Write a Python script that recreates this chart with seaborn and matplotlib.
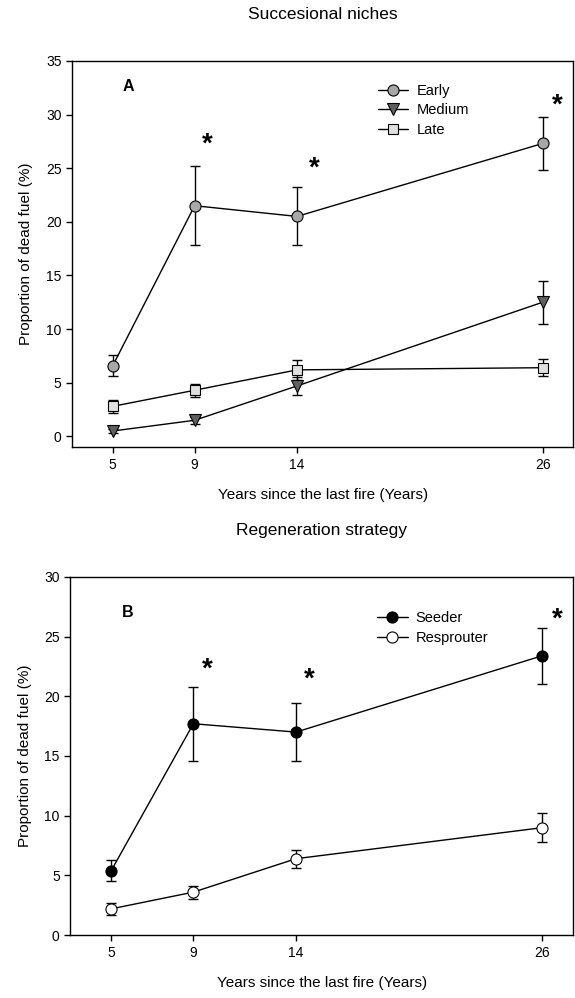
import numpy as np
import pandas as pd
import matplotlib
matplotlib.use("Agg")
import matplotlib.pyplot as plt
import seaborn as sns

# years since last fire
years = [5, 9, 14, 26]

# panel A: successional niches (mean, error)
early = [6.6, 21.5, 20.5, 27.3]
early_err = [1.0, 3.7, 2.7, 2.5]
medium = [0.5, 1.5, 4.7, 12.5]
medium_err = [0.2, 0.3, 0.8, 2.0]
late = [2.8, 4.3, 6.2, 6.4]
late_err = [0.6, 0.6, 0.9, 0.8]

# panel B: regeneration strategy
seeder = [5.4, 17.7, 17.0, 23.4]
seeder_err = [0.85, 3.1, 2.45, 2.35]
resprouter = [2.2, 3.6, 6.4, 9.0]
resprouter_err = [0.5, 0.55, 0.75, 1.2]

# significance marks (x, y)
stars_a = [(9.6, 27.2), (14.85, 25.0), (26.7, 30.8)]
stars_b = [(9.7, 22.2), (14.65, 21.4), (26.7, 26.4)]

sns.set_style("white")
plt.rcParams['font.family'] = ['Liberation Sans', 'DejaVu Sans']
plt.rcParams['text.color'] = 'black'
plt.rcParams['axes.labelcolor'] = 'black'
plt.rcParams['xtick.color'] = 'black'
plt.rcParams['ytick.color'] = 'black'


def draw_series(ax, y, err, label, marker, face, size):
    df = pd.DataFrame({'year': years, 'value': y})
    sns.lineplot(data=df, x='year', y='value', ax=ax, color='black', lw=1,
                 marker=marker, markersize=size, markerfacecolor=face,
                 markeredgecolor='black', markeredgewidth=0.8, label=label,
                 zorder=3)
    ax.errorbar(years, y, yerr=err, fmt='none', ecolor='black', elinewidth=1,
                capsize=3.5, capthick=1, zorder=2)


def style_axis(ax, ylim, yticks, letter, letter_y, stars, title, leg_y):
    ax.set_xlim(3, 27.5)
    ax.set_ylim(*ylim)
    ax.set_xticks(years)
    ax.set_yticks(yticks)
    ax.tick_params(axis='both', direction='out', length=4, width=1,
                   labelsize=10, bottom=True, left=True)
    for s in ax.spines.values():
        s.set_color('black')
        s.set_linewidth(1)
    ax.set_xlabel('Years since the last fire (Years)', fontsize=11, labelpad=12)
    ax.set_ylabel('Proportion of dead fuel (%)', fontsize=11, labelpad=9)
    ax.set_title(title, fontsize=12.5, pad=30)
    ax.text(5.5, letter_y, letter, fontsize=11.5, fontweight='bold', va='center')
    for x, y in stars:
        ax.text(x, y, '*', fontsize=20, fontweight='bold', ha='center', va='center')
    ax.legend(loc='upper left', bbox_to_anchor=(0.584, leg_y), frameon=False,
              fontsize=10.5, handlelength=2.1, labelspacing=0.38, handletextpad=0.55)


fig = plt.figure(figsize=(5.75, 9.98), dpi=100)
ax1 = fig.add_axes([0.125, 0.552, 0.872, 0.387])
ax2 = fig.add_axes([0.122, 0.063, 0.875, 0.359])

draw_series(ax1, early, early_err, 'Early', 'o', '#a8a8a8', 8)
draw_series(ax1, medium, medium_err, 'Medium', 'v', '#606060', 8)
draw_series(ax1, late, late_err, 'Late', 's', '#e0e0e0', 7)
style_axis(ax1, (-1, 35), range(0, 36, 5), 'A', 32.6, stars_a,
           'Succesional niches', 0.975)

draw_series(ax2, seeder, seeder_err, 'Seeder', 'o', 'black', 8)
draw_series(ax2, resprouter, resprouter_err, 'Resprouter', 'o', 'white', 8)
style_axis(ax2, (0, 30), range(0, 31, 5), 'B', 27.0, stars_b,
           'Regeneration strategy', 0.94)

fig.savefig('out.png', dpi=100)
